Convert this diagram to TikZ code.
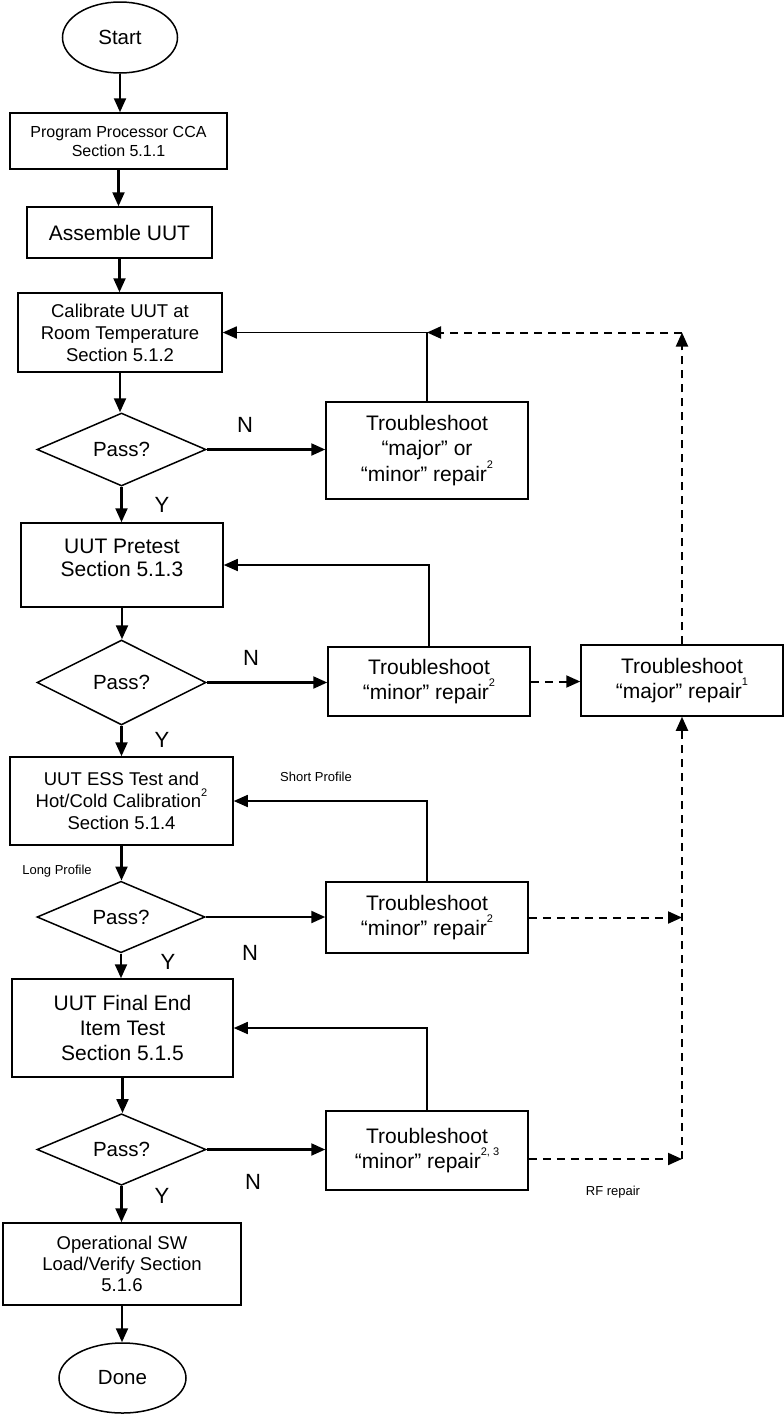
\documentclass[tikz,border=0pt]{standalone}
\usepackage{fontspec}
\setmainfont{Liberation Sans}
\usetikzlibrary{shapes.geometric,arrows.meta}
\newcommand\fsz[2]{\fontsize{#1}{#2}\selectfont}
\newcommand\fnote[1]{\raisebox{0.62em}{\fsz{11}{11}#1}}
\tikzset{>={Triangle[length=14pt,width=12pt]}}
\tikzset{
  stepbox/.style = {draw,line width=1.5pt,rectangle,inner sep=0pt,align=center},
  terminal/.style = {draw,line width=1.5pt,ellipse,inner sep=0pt,font=\fsz{20.5}{24}},
  decision/.style = {draw,line width=1.5pt,diamond,inner sep=0pt,font=\fsz{20.5}{24}},
  fixbox/.style = {stepbox,minimum width=202pt,font=\fsz{21}{25}},
  flow/.style = {->,line width=2.2pt},
  back/.style = {->,line width=1.6pt},
  repair/.style = {->,line width=2pt,dash pattern=on 8pt off 6pt},
  answer/.style = {font=\fsz{22}{26}},
  note/.style = {font=\fsz{13}{15}}
}

\begin{document}
\begin{tikzpicture}[x=1pt,y=-1pt]
  \useasboundingbox (0,0) rectangle (784,1414);
  % main column
  \node[terminal,minimum width=115pt,minimum height=71pt] (start) at (120,37.5) {Start};
  \node[stepbox,minimum width=217pt,minimum height=56pt,font=\fsz{16}{19}] (prog) at (118.5,141) {Program Processor CCA\\Section 5.1.1};
  \node[stepbox,minimum width=185pt,minimum height=51pt,font=\fsz{21}{25}] (asm) at (119.5,232.5) {Assemble UUT};
  \node[stepbox,minimum width=204pt,minimum height=79pt,font=\fsz{18.5}{22}] (cal) at (120,332.5) {Calibrate UUT at\\Room Temperature\\Section 5.1.2};
  \node[decision,minimum width=169pt,minimum height=73pt] (pass1) at (121.5,449.5) {Pass?};
  \node[stepbox,minimum width=202pt,minimum height=84pt,font=\fsz{21}{23}] (pretest) at (122,565) {UUT Pretest\\Section 5.1.3\\[-8pt]\mbox{}};
  \node[decision,minimum width=169pt,minimum height=85pt] (pass2) at (121.5,682.5) {Pass?};
  \node[stepbox,minimum width=223pt,minimum height=88pt,font=\fsz{18.5}{22}] (ess) at (121.5,801) {UUT ESS Test and\\Hot/Cold Calibration\fnote{2}\\Section 5.1.4};
  \node[decision,minimum width=168pt,minimum height=66pt] (pass3) at (121,917) {Pass?};
  \node[stepbox,minimum width=221pt,minimum height=98pt,font=\fsz{21}{25}] (final) at (122.5,1028) {UUT Final End\\Item Test\\Section 5.1.5};
  \node[decision,minimum width=169pt,minimum height=65pt] (pass4) at (121.5,1149.5) {Pass?};
  \node[stepbox,minimum width=238pt,minimum height=82pt,font=\fsz{18.5}{21}] (opsw) at (122,1264) {Operational SW\\Load/Verify Section\\5.1.6};
  \node[terminal,minimum width=127pt,minimum height=70pt] (done) at (122.5,1378) {Done};
  % repair column
  \node[fixbox,minimum height=97pt] (fix1) at (427,450.5) {Troubleshoot\\“major” or\\“minor” repair\fnote{2}};
  \node[fixbox,minimum height=69pt] (fix2) at (429,681.5) {Troubleshoot\\“minor” repair\fnote{2}};
  \node[fixbox,minimum height=71pt] (major) at (682,680.5) {Troubleshoot\\“major” repair\fnote{1}};
  \node[fixbox,minimum height=71pt] (fix3) at (427,917.5) {Troubleshoot\\“minor” repair\fnote{2}};
  \node[fixbox,minimum height=79pt] (fix4) at (427,1150.5) {Troubleshoot\\“minor” repair\fnote{2, 3}};
  % labels
  \node[answer] (n1) at (245,425) {N};
  \node[answer] (y1) at (162,505) {Y};
  \node[answer] (n2) at (251,658) {N};
  \node[answer] (y2) at (162,740) {Y};
  \node[answer] (n3) at (250,953) {N};
  \node[answer] (y3) at (168,962) {Y};
  \node[answer] (n4) at (253,1182) {N};
  \node[answer] (y4) at (162,1196) {Y};
  \node[note] (shortp) at (316,777) {Short Profile};
  \node[note] (longp) at (57,871) {Long Profile};
  \node[note] (rf) at (613,1192) {RF repair};
  % main flow
  \foreach \a/\b in {start/prog,prog/asm,asm/cal,cal/pass1,pass1/pretest,pretest/pass2,pass2/ess,ess/pass3,pass3/final,final/pass4,pass4/opsw,opsw/done} {
    \draw[flow] (\a.south) -- (\a.south |- \b.north);
  }
  \foreach \a/\b in {pass1/fix1,pass2/fix2,pass3/fix3,pass4/fix4} {
    \draw[flow] (\a.east) -- (\a.east -| \b.west);
  }
  % loop backs
  \draw[back] (fix1.north) |- (cal.east);
  \draw[back] (fix2.north) |- (pretest.east);
  \draw[back] (fix3.north) |- (ess.east);
  \draw[back] (fix4.north) |- (final.east);
  % major repair rail
  \coordinate (joint) at (fix1.north |- cal.east);
  \coordinate (corner) at (major.north |- cal.east);
  \path ([yshift=-8.5pt]fix4.east) coordinate (fix4out);
  \coordinate (railend) at (fix4out -| major.south);
  \draw[repair] (major.north) -- (corner);
  \draw[repair] (corner) -- (joint);
  \draw[repair] (fix2.east) -- (fix2.east -| major.west);
  \draw[repair] (railend) -- (major.south);
  \draw[repair] (fix3.east) -- (fix3.east -| major.south);
  \draw[repair] (fix4out) -- (railend);
\end{tikzpicture}
\end{document}
